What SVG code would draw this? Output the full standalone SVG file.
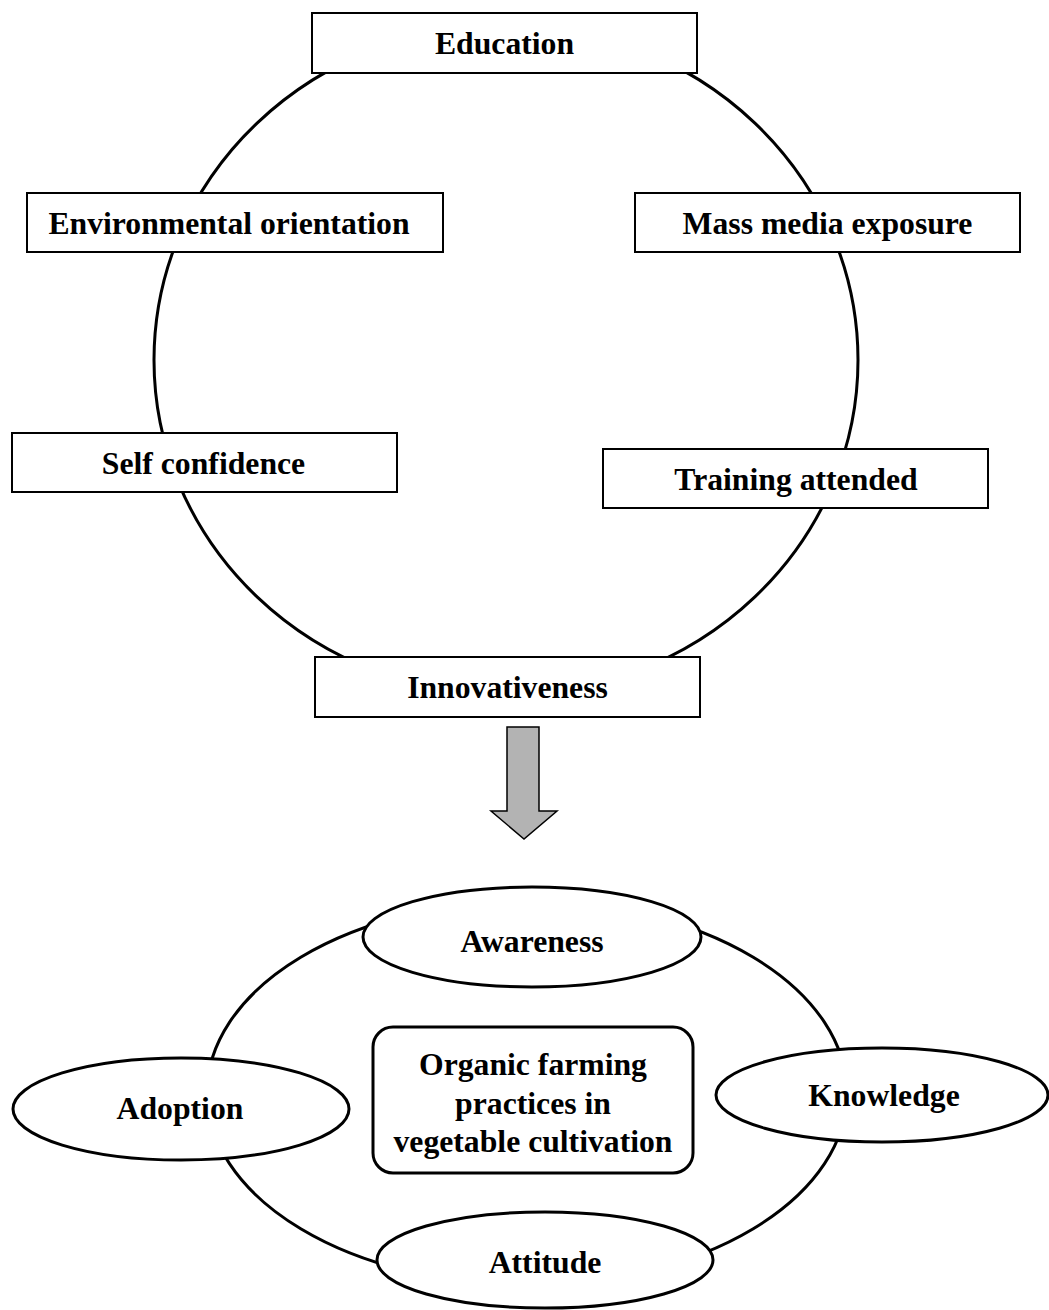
<svg xmlns="http://www.w3.org/2000/svg" width="1049" height="1310" viewBox="0 0 1049 1310">
<style>
.box{fill:#fff;stroke:#000;stroke-width:2}
.ell{fill:#fff;stroke:#000;stroke-width:3}
.ring{fill:none;stroke:#000;stroke-width:3}
.t{font-family:"Liberation Serif","Times New Roman",serif;font-weight:bold;font-size:31.7px;text-anchor:middle;fill:#000}
</style>
<g id="connectors">
<ellipse class="ring" cx="506" cy="360" rx="352" ry="335"/>
<ellipse class="ring" cx="527" cy="1093" rx="320" ry="192"/>
<path id="arrow" d="M507 727 H539 V811 H557 L524 839 L491 811 H507 Z" fill="#b3b3b3" stroke="#000" stroke-width="1.5"/>
</g>
<g id="education"><rect class="box" x="312" y="13" width="385" height="60"/><text class="t" x="504.5" y="54">Education</text></g>
<g id="environmental"><rect class="box" x="27" y="193" width="416" height="59"/><text class="t" x="229" y="234">Environmental orientation</text></g>
<g id="massmedia"><rect class="box" x="635" y="193" width="385" height="59"/><text class="t" x="827.5" y="234">Mass media exposure</text></g>
<g id="selfconfidence"><rect class="box" x="12" y="433" width="385" height="59"/><text class="t" x="203.5" y="474">Self confidence</text></g>
<g id="training"><rect class="box" x="603" y="449" width="385" height="59"/><text class="t" x="796" y="490">Training attended</text></g>
<g id="innovativeness"><rect class="box" x="315" y="657" width="385" height="60"/><text class="t" x="507.5" y="698">Innovativeness</text></g>
<g id="awareness"><ellipse class="ell" cx="532" cy="937" rx="169" ry="50"/><text class="t" x="532" y="952">Awareness</text></g>
<g id="adoption"><ellipse class="ell" cx="181" cy="1109" rx="168" ry="51"/><text class="t" x="180" y="1119">Adoption</text></g>
<g id="knowledge"><ellipse class="ell" cx="882" cy="1095" rx="166" ry="47"/><text class="t" x="884" y="1106">Knowledge</text></g>
<g id="attitude"><ellipse class="ell" cx="545" cy="1260" rx="168" ry="48"/><text class="t" x="545" y="1273">Attitude</text></g>
<g id="center"><rect class="ell" x="373" y="1027" width="320" height="146" rx="20" ry="20"/>
<text class="t" x="533" y="1075">Organic farming</text>
<text class="t" x="533" y="1114">practices in</text>
<text class="t" x="533" y="1152">vegetable cultivation</text></g>
</svg>
